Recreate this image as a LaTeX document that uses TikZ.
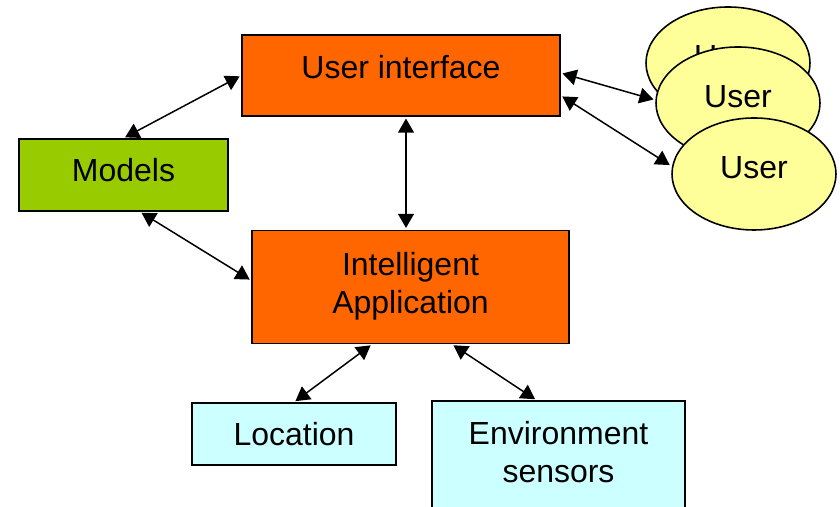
\documentclass[tikz,border=0pt]{standalone}
\usepackage{fontspec}
\setmainfont{Liberation Sans}
\usetikzlibrary{arrows.meta,shapes.geometric}
\definecolor{uiorange}{HTML}{FF6600}
\definecolor{modelgreen}{HTML}{99CC00}
\definecolor{sensorcyan}{HTML}{CCFFFF}
\definecolor{useryellow}{HTML}{FFFF99}
\begin{document}
\begin{tikzpicture}[
   box/.style={draw,line width=0.9pt,align=center,inner sep=0pt,
      font=\fontsize{18.2}{21.5}\selectfont},
   user/.style={draw,ellipse,fill=useryellow,line width=0.9pt,inner sep=0pt,
      minimum width=3.28cm,minimum height=2.24cm,text depth=0.25cm,
      font=\fontsize{18.2}{21.5}\selectfont},
   link/.style={line width=0.85pt,{Triangle[length=8pt,width=9pt]}-{Triangle[length=8pt,width=9pt]},
      shorten <=1pt,shorten >=1pt}]
       \clip (0,0) rectangle (16.8,10.14);
       \node at (8.02,8.63) [box,fill=uiorange,minimum width=6.36cm,minimum height=1.62cm,
          text depth=0.35cm] (ui) {User interface};
       \node at (2.47,6.64) [box,fill=modelgreen,minimum width=4.18cm,minimum height=1.44cm,
          text depth=0.2cm] (models) {Models};
       \node at (8.21,4.40) [box,fill=uiorange,minimum width=6.34cm,minimum height=2.26cm,
          text depth=0.15cm] (app) {Intelligent\\Application};
       \node at (5.88,1.46) [box,fill=sensorcyan,minimum width=4.08cm,minimum height=1.24cm]
          (location) {Location};
       \node at (11.17,0.98) [box,fill=sensorcyan,minimum width=5.06cm,minimum height=2.28cm,
          text depth=0.25cm] (sensors) {Environment\\sensors};
       \node at (14.56,8.88) [user] (user1) {User};
       \node at (14.76,8.08) [user] (user2) {User};
       \node at (15.08,6.66) [user] (user3) {User};
       \draw [link] (models.north) -- (ui.west);
       \draw [link] ([xshift=0.33cm]models.south) -- ([yshift=0.13cm]app.west);
       \draw [link] ([xshift=0.1cm]ui.south) -- ([xshift=0.1cm]ui.south |- app.north);
       \draw [link] ([yshift=0.05cm]ui.east) -- ([yshift=0.06cm]user2.west);
       \draw [link] ([yshift=-0.4cm]ui.east) -- ([yshift=0.16cm]user3.west);
       \draw [link] ([xshift=-0.77cm]app.south) -- (location.north);
       \draw [link] ([xshift=0.83cm]app.south) -- ([xshift=-0.44cm]sensors.north);
\end{tikzpicture}
\end{document}
